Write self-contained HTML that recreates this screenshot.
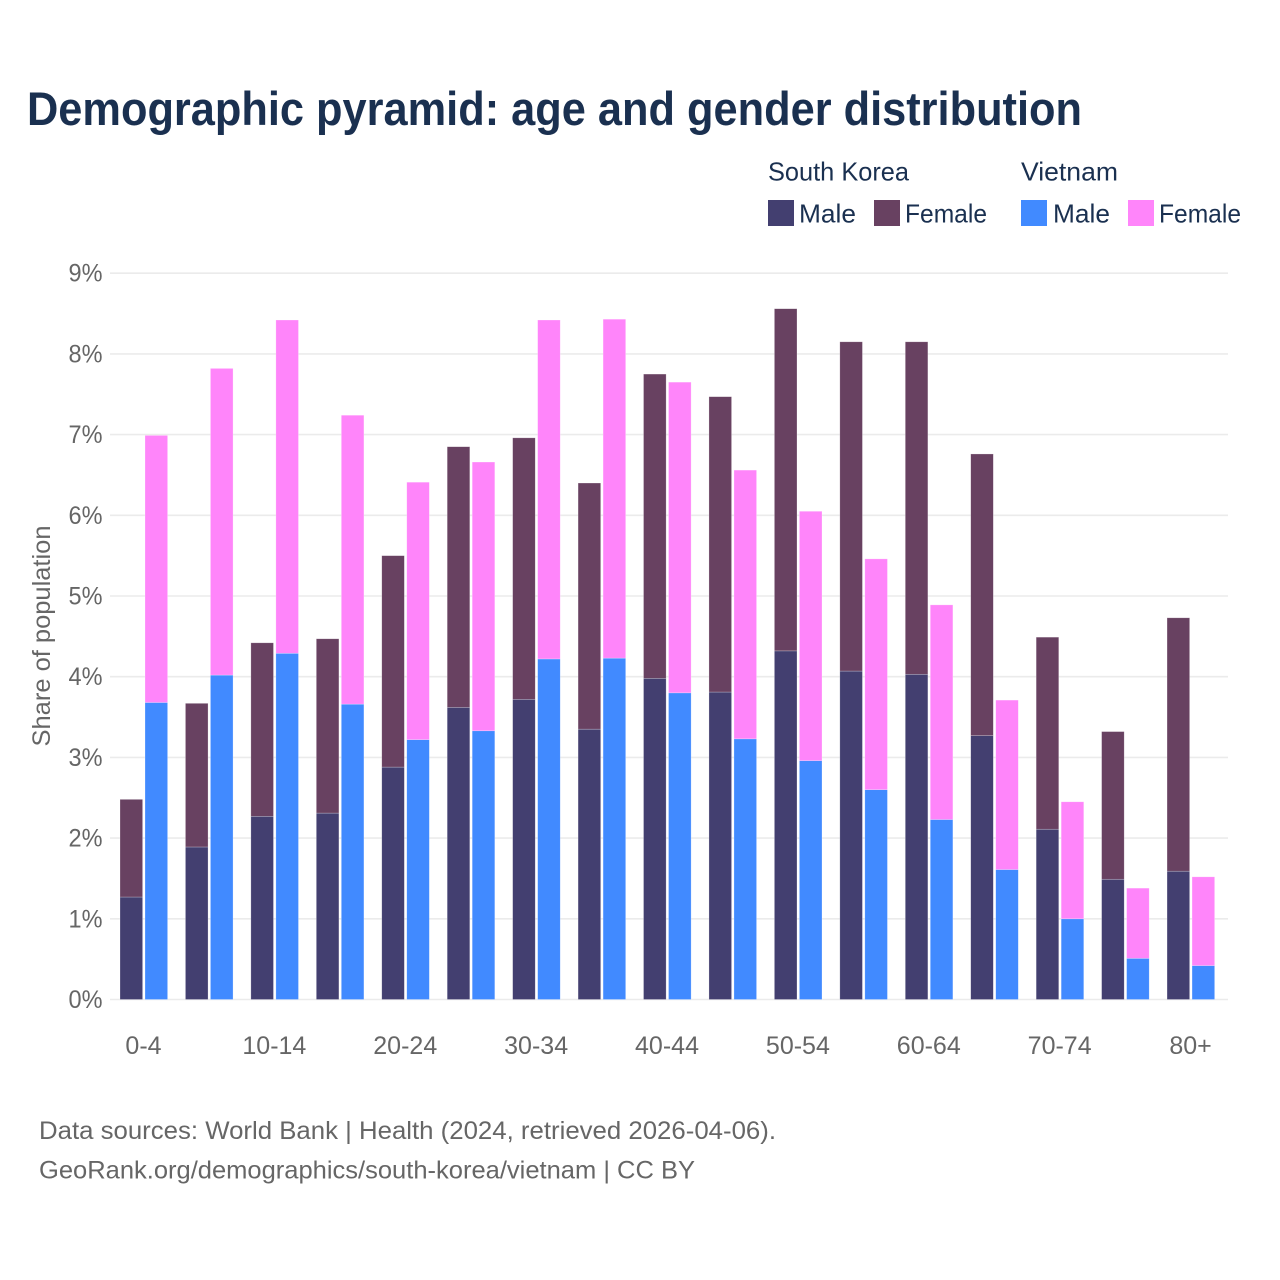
<!DOCTYPE html>
<html lang="en">
<head>
<meta charset="utf-8">
<title>Demographic pyramid</title>
<style>
html,body{margin:0;padding:0;background:#fff;}
svg{display:block;font-family:"Liberation Sans",sans-serif;}
</style>
</head>
<body>
<svg id="chart" xmlns="http://www.w3.org/2000/svg" width="1280" height="1280" viewBox="0 0 1280 1280">
  <rect x="0" y="0" width="1280" height="1280" fill="#ffffff"/>
  <text x="27" y="125" font-size="47" font-weight="700" fill="#1a3050" textLength="1055" lengthAdjust="spacingAndGlyphs">Demographic pyramid: age and gender distribution</text>

  <g font-size="26" fill="#1a3050">
    <text x="768" y="180.5" textLength="141" lengthAdjust="spacingAndGlyphs">South Korea</text>
    <text x="1021" y="180.5" textLength="97" lengthAdjust="spacingAndGlyphs">Vietnam</text>
    <rect x="768" y="200" width="26" height="26" fill="#433f70"/>
    <text x="799" y="222.5" textLength="57" lengthAdjust="spacingAndGlyphs">Male</text>
    <rect x="874" y="200" width="26" height="26" fill="#684161"/>
    <text x="905" y="222.5" textLength="82" lengthAdjust="spacingAndGlyphs">Female</text>
    <rect x="1021" y="200" width="26" height="26" fill="#418aff"/>
    <text x="1053" y="222.5" textLength="57" lengthAdjust="spacingAndGlyphs">Male</text>
    <rect x="1128" y="200" width="26" height="26" fill="#ff85fa"/>
    <text x="1159" y="222.5" textLength="82" lengthAdjust="spacingAndGlyphs">Female</text>
  </g>

  <g id="grid"></g>
  <g id="y-ticks" font-size="25" fill="#666666" text-anchor="end"></g>
  <text transform="translate(50,636) rotate(-90)" text-anchor="middle" font-size="25" fill="#666666" textLength="221" lengthAdjust="spacingAndGlyphs">Share of population</text>
  <g id="bars"></g>
  <g id="x-ticks" font-size="25" fill="#666666" text-anchor="middle"></g>

  <g font-size="25" fill="#666666">
    <text x="39" y="1139" textLength="737" lengthAdjust="spacingAndGlyphs">Data sources: World Bank | Health (2024, retrieved 2026-04-06).</text>
    <text x="39" y="1178.5" textLength="656" lengthAdjust="spacingAndGlyphs">GeoRank.org/demographics/south-korea/vietnam | CC BY</text>
  </g>
</svg>
<script>
const ageGroups = ['0-4','5-9','10-14','15-19','20-24','25-29','30-34','35-39','40-44','45-49','50-54','55-59','60-64','65-69','70-74','75-79','80+'];
const axisLabels = ['0-4','10-14','20-24','30-34','40-44','50-54','60-64','70-74','80+'];
const yTicks = [0,1,2,3,4,5,6,7,8,9];
const koreaMale = [1.27,1.89,2.27,2.31,2.88,3.62,3.72,3.35,3.98,3.81,4.32,4.07,4.03,3.27,2.11,1.49,1.59];
const koreaFemale = [1.21,1.78,2.15,2.16,2.62,3.23,3.24,3.05,3.77,3.66,4.24,4.08,4.12,3.49,2.38,1.83,3.14];
const vietnamMale = [3.68,4.02,4.29,3.66,3.22,3.33,4.22,4.23,3.80,3.23,2.96,2.60,2.23,1.61,1.00,0.51,0.42];
const vietnamFemale = [3.31,3.80,4.13,3.58,3.19,3.33,4.20,4.20,3.85,3.33,3.09,2.86,2.66,2.10,1.45,0.87,1.10];

const NS = 'http://www.w3.org/2000/svg';
const y0 = 999.5, yPerUnit = 80.7;
const xStart = 120, groupStep = 65.44, barW = 22.6, barOffset = 25;
function yScale(v){ return y0 - v * yPerUnit; }
function xScale(i, seriesIndex){ return xStart + i * groupStep + seriesIndex * barOffset; }
function make(tag, attrs, parent){
  const el = document.createElementNS(NS, tag);
  for (const k in attrs) el.setAttribute(k, attrs[k]);
  parent.appendChild(el);
  return el;
}
const grid = document.getElementById('grid');
const yT = document.getElementById('y-ticks');
yTicks.forEach(function(t){
  const line = make('line', {x1:110, x2:1228, y1:yScale(t), y2:yScale(t), stroke:'#ebebeb', 'stroke-width':1.6}, grid);
  
  
  const lab = make('text', {x:102.5, y:yScale(t) + 8.5}, yT);
  
  
  lab.setAttribute('textLength', '34');
  lab.setAttribute('lengthAdjust', 'spacingAndGlyphs');
  lab.textContent = t + '%';
});
const bars = document.getElementById('bars');
function segment(i, s, base, val, color, name){
  const r = make('rect', {x:xScale(i, s), y:yScale(base + val), width:barW, height:val * yPerUnit, fill:color, stroke:'#ffffff', 'stroke-opacity':0.4, 'stroke-width':0.6}, bars);
  
  
}
ageGroups.forEach(function(g, i){
  segment(i, 0, 0, koreaMale[i], '#433f70', 'bar-south-korea-male-' + g);
  segment(i, 0, koreaMale[i], koreaFemale[i], '#684161', 'bar-south-korea-female-' + g);
  segment(i, 1, 0, vietnamMale[i], '#418aff', 'bar-vietnam-male-' + g);
  segment(i, 1, vietnamMale[i], vietnamFemale[i], '#ff85fa', 'bar-vietnam-female-' + g);
});
const xT = document.getElementById('x-ticks');
axisLabels.forEach(function(l){
  const i = ageGroups.indexOf(l);
  const t = make('text', {x:xScale(i, 0) + 23.5, y:1054}, xT);
  
  
  t.textContent = l;
});
</script>
</body>
</html>
